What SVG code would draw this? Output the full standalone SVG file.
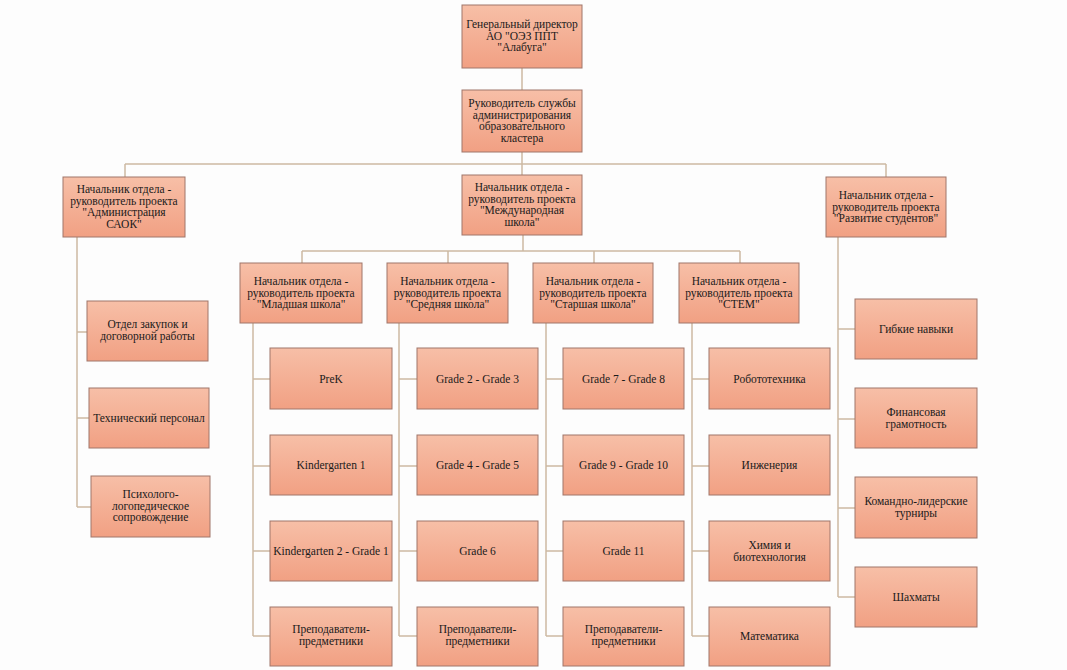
<svg xmlns="http://www.w3.org/2000/svg" width="1067" height="670" viewBox="0 0 1067 670">
<defs>
<linearGradient id="g" x1="0" y1="0" x2="0" y2="1">
<stop offset="0" stop-color="#f7bfa7"/>
<stop offset="1" stop-color="#f1a083"/>
</linearGradient>
<style>
.b{fill:url(#g);stroke:#a0766a;stroke-width:1}
.t{font-family:'Liberation Serif','Times New Roman','DejaVu Serif',serif;font-size:11.5px;fill:#1a1a1a;text-anchor:middle}
.c{fill:none;stroke:#cdb9a3;stroke-width:1.5}
</style>
</defs>
<rect width="1067" height="670" fill="#fdfdfd"/>
<g id="connectors">
<path class="c" d="M522 68V90M522 152V175M125 164H886M125 164V177M886 164V177M523 235V251M302 251H740M302 251V263M448 251V263M594 251V263M740 251V263"/>
<path class="c" d="M77 237V507M77 332H87M77 418H89M77 507H91"/>
<path class="c" d="M253 323V636M253 379H270M253 466H270M253 551H270M253 636H270"/>
<path class="c" d="M399 323V636M399 379H417M399 466H417M399 551H417M399 636H417"/>
<path class="c" d="M546 323V636M546 379H563M546 466H563M546 551H563M546 636H563"/>
<path class="c" d="M692 323V636M692 379H709M692 466H709M692 551H709M692 636H709"/>
<path class="c" d="M838 237V597M838 329H855M838 419H855M838 508H855M838 597H855"/>
</g>
<g id="n_director"><rect class="b" x="462" y="5" width="120" height="63"/><text class="t" x="522" y="28">Генеральный директор<tspan x="522" dy="11.5">АО "ОЭЗ ППТ</tspan><tspan x="522" dy="11.5">"Алабуга"</tspan></text></g>
<g id="n_admin"><rect class="b" x="462" y="90" width="120" height="62"/><text class="t" x="522" y="107">Руководитель службы<tspan x="522" dy="11.5">администрирования</tspan><tspan x="522" dy="11.5">образовательного</tspan><tspan x="522" dy="11.5">кластера</tspan></text></g>
<g id="n_saok"><rect class="b" x="63" y="177" width="122" height="60"/><text class="t" x="124" y="193">Начальник отдела -<tspan x="124" dy="11.5">руководитель проекта</tspan><tspan x="124" dy="11.5">"Администрация</tspan><tspan x="124" dy="11.5">САОК"</tspan></text></g>
<g id="n_intl"><rect class="b" x="462" y="175" width="120" height="60"/><text class="t" x="522" y="191">Начальник отдела -<tspan x="522" dy="11.5">руководитель проекта</tspan><tspan x="522" dy="11.5">"Международная</tspan><tspan x="522" dy="11.5">школа"</tspan></text></g>
<g id="n_students"><rect class="b" x="826" y="177" width="120" height="60"/><text class="t" x="886" y="199">Начальник отдела -<tspan x="886" dy="11.5">руководитель проекта</tspan><tspan x="886" dy="11.5">"Развитие студентов"</tspan></text></g>
<g id="n_jun"><rect class="b" x="240" y="263" width="122" height="60"/><text class="t" x="301" y="285">Начальник отдела -<tspan x="301" dy="11.5">руководитель проекта</tspan><tspan x="301" dy="11.5">"Младшая школа"</tspan></text></g>
<g id="n_mid"><rect class="b" x="387" y="263" width="121" height="60"/><text class="t" x="447.5" y="285">Начальник отдела -<tspan x="447.5" dy="11.5">руководитель проекта</tspan><tspan x="447.5" dy="11.5">"Средняя школа"</tspan></text></g>
<g id="n_sen"><rect class="b" x="533" y="263" width="120" height="60"/><text class="t" x="593" y="285">Начальник отдела -<tspan x="593" dy="11.5">руководитель проекта</tspan><tspan x="593" dy="11.5">"Старшая школа"</tspan></text></g>
<g id="n_stem"><rect class="b" x="679" y="263" width="120" height="60"/><text class="t" x="739" y="285">Начальник отдела -<tspan x="739" dy="11.5">руководитель проекта</tspan><tspan x="739" dy="11.5">"СТЕМ"</tspan></text></g>
<g id="n_zak"><rect class="b" x="87" y="301" width="121" height="60"/><text class="t" x="147.5" y="328">Отдел закупок и<tspan x="147.5" dy="11.5">договорной работы</tspan></text></g>
<g id="n_tech"><rect class="b" x="89" y="388" width="120" height="60"/><text class="t" x="149" y="422">Технический персонал</text></g>
<g id="n_psy"><rect class="b" x="91" y="476" width="119" height="61"/><text class="t" x="150.5" y="498">Психолого-<tspan x="150.5" dy="11.5">логопедическое</tspan><tspan x="150.5" dy="11.5">сопровождение</tspan></text></g>
<g id="n_prek"><rect class="b" x="270" y="348" width="122" height="61"/><text class="t" x="331" y="383">PreK</text></g>
<g id="n_k1"><rect class="b" x="270" y="435" width="122" height="60"/><text class="t" x="331" y="469">Kindergarten 1</text></g>
<g id="n_k2"><rect class="b" x="270" y="521" width="122" height="60"/><text class="t" x="331" y="555">Kindergarten 2 - Grade 1</text></g>
<g id="n_t1"><rect class="b" x="270" y="607" width="122" height="59"/><text class="t" x="331" y="633">Преподаватели-<tspan x="331" dy="11.5">предметники</tspan></text></g>
<g id="n_g23"><rect class="b" x="417" y="348" width="121" height="61"/><text class="t" x="477.5" y="383">Grade 2 - Grade 3</text></g>
<g id="n_g45"><rect class="b" x="417" y="435" width="121" height="60"/><text class="t" x="477.5" y="469">Grade 4 - Grade 5</text></g>
<g id="n_g6"><rect class="b" x="417" y="521" width="121" height="60"/><text class="t" x="477.5" y="555">Grade 6</text></g>
<g id="n_t2"><rect class="b" x="417" y="607" width="121" height="59"/><text class="t" x="477.5" y="633">Преподаватели-<tspan x="477.5" dy="11.5">предметники</tspan></text></g>
<g id="n_g78"><rect class="b" x="563" y="348" width="121" height="61"/><text class="t" x="623.5" y="383">Grade 7 - Grade 8</text></g>
<g id="n_g910"><rect class="b" x="563" y="435" width="121" height="60"/><text class="t" x="623.5" y="469">Grade 9 - Grade 10</text></g>
<g id="n_g11"><rect class="b" x="563" y="521" width="121" height="60"/><text class="t" x="623.5" y="555">Grade 11</text></g>
<g id="n_t3"><rect class="b" x="563" y="607" width="121" height="59"/><text class="t" x="623.5" y="633">Преподаватели-<tspan x="623.5" dy="11.5">предметники</tspan></text></g>
<g id="n_rob"><rect class="b" x="709" y="348" width="121" height="61"/><text class="t" x="769.5" y="383">Робототехника</text></g>
<g id="n_eng"><rect class="b" x="709" y="435" width="121" height="60"/><text class="t" x="769.5" y="469">Инженерия</text></g>
<g id="n_chem"><rect class="b" x="709" y="521" width="121" height="60"/><text class="t" x="769.5" y="549">Химия и<tspan x="769.5" dy="11.5">биотехнология</tspan></text></g>
<g id="n_math"><rect class="b" x="709" y="607" width="121" height="59"/><text class="t" x="769.5" y="640">Математика</text></g>
<g id="n_soft"><rect class="b" x="855" y="299" width="122" height="60"/><text class="t" x="916" y="333">Гибкие навыки</text></g>
<g id="n_fin"><rect class="b" x="855" y="388" width="122" height="60"/><text class="t" x="916" y="416">Финансовая<tspan x="916" dy="11.5">грамотность</tspan></text></g>
<g id="n_team"><rect class="b" x="855" y="477" width="122" height="61"/><text class="t" x="916" y="505">Командно-лидерские<tspan x="916" dy="11.5">турниры</tspan></text></g>
<g id="n_chess"><rect class="b" x="855" y="567" width="122" height="60"/><text class="t" x="916" y="601">Шахматы</text></g>
</svg>
